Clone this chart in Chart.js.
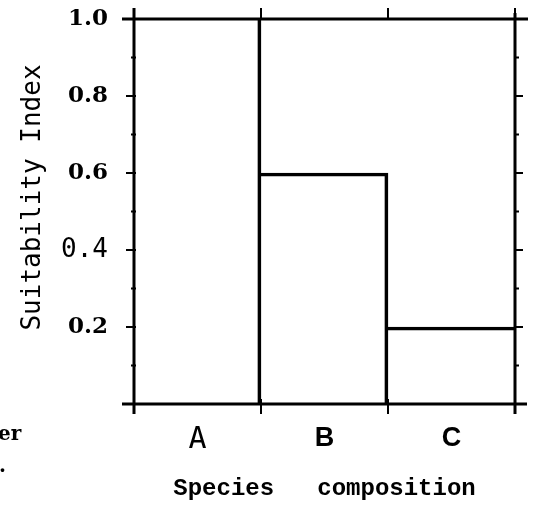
<!DOCTYPE html>
<html lang="en">
<head>
  <meta charset="UTF-8">
  <title>Species composition</title>
  <script src="https://cdn.jsdelivr.net/npm/chart.js"></script>
  <style>
    body, html {
      margin: 0;
      padding: 0;
      background-color: #ffffff;
    }
    .chart-container {
      width: 535px;
      height: 506px;
    }
  </style>
</head>
<body>
  <div class="chart-container"><canvas id="myChart" width="535" height="506"></canvas></div>

  <script>
    const categories = ['A', 'B', 'C'];
    const suitability = [1.0, 0.6, 0.2];
    const yTickValues = [0.2, 0.4, 0.6, 0.8, 1.0];
    const yTickLabels = ['0.2', '0.4', '0.6', '0.8', '1.0'];
    const yTitle = 'Suitability Index';
    const xTitle = 'Species   composition';

    const ink = '#000000';
    const thinFont = '"DejaVu Sans Mono", monospace';
    const boldSerif = '"DejaVu Serif", serif';
    const narrowBold = '"Liberation Sans Narrow", "Liberation Sans", sans-serif';

    // frame, outward ticks and the loose text around the plot
    const framePlugin = {
      id: 'frame',
      afterDraw(chart) {
        const { ctx, chartArea: a, scales } = chart;
        const y = scales.y, x = scales.x;
        ctx.save();
        ctx.strokeStyle = ink;
        ctx.lineWidth = 3;
        ctx.lineCap = 'butt';

        // box
        ctx.beginPath();
        ctx.moveTo(a.left - 12, a.top); ctx.lineTo(a.right + 13, a.top);
        ctx.moveTo(a.left - 12, a.bottom); ctx.lineTo(a.right + 12, a.bottom);
        ctx.moveTo(a.left, a.top - 11); ctx.lineTo(a.left, a.bottom + 10);
        ctx.moveTo(a.right, a.top - 6); ctx.lineTo(a.right, a.bottom + 10);
        ctx.stroke();

        // y ticks every 0.1
        ctx.lineWidth = 2;
        ctx.beginPath();
        for (let i = 1; i < 10; i++) {
          const py = y.getPixelForValue(i / 10);
          const major = i % 2 === 0;
          ctx.moveTo(a.left - (major ? 8 : 3), py); ctx.lineTo(a.left + 2, py);
          ctx.moveTo(a.right - 1, py); ctx.lineTo(a.right + (major ? 8 : 4), py);
        }
        // category boundaries on the top and bottom axes
        for (let k = 0; k <= categories.length; k++) {
          const px = x.getPixelForValue(k - 0.5);
          ctx.moveTo(px, a.top - 11); ctx.lineTo(px, a.top);
          ctx.moveTo(px, a.bottom - 5); ctx.lineTo(px, a.bottom + 10);
        }
        ctx.stroke();

        // y title
        ctx.fillStyle = ink;
        ctx.save();
        ctx.translate(40, (a.top + a.bottom) / 2 - 14);
        ctx.rotate(-Math.PI / 2);
        ctx.font = '26px ' + thinFont;
        ctx.textAlign = 'center';
        ctx.textBaseline = 'alphabetic';
        ctx.fillText(yTitle, 0, 0);
        ctx.restore();

        // cut-off caption text from the page
        ctx.font = 'bold 20px ' + boldSerif;
        ctx.textAlign = 'left';
        ctx.textBaseline = 'alphabetic';
        ctx.fillText('er', -2, 440);
        ctx.fillText('.', -1, 472);
        ctx.restore();
      }
    };

    const ctx = document.getElementById('myChart').getContext('2d');
    const myChart = new Chart(ctx, {
      type: 'bar',
      data: {
        labels: categories,
        datasets: [{
          label: 'Suitability Index',
          data: suitability,
          backgroundColor: 'rgba(0,0,0,0)',
          borderColor: ink,
          // the right edge of the last bar and the top of the first sit on the frame
          borderWidth(c) {
            const last = c.dataIndex === categories.length - 1;
            return { top: c.dataIndex === 0 ? 0 : 3, right: last ? 0 : 3, bottom: 0, left: 0 };
          },
          borderSkipped: false,
          barPercentage: 1,
          categoryPercentage: 1
        }]
      },
      options: {
        responsive: false,
        animation: false,
        layout: { padding: { top: 19, right: 20, bottom: 0, left: 0 } },
        plugins: {
          legend: { display: false },
          tooltip: { enabled: false }
        },
        scales: {
          x: {
            grid: { display: false, drawTicks: false },
            border: { display: false },
            afterFit(scale) {
              scale.height = 102;
              scale.paddingLeft = 0;
              scale.paddingRight = 0;
            },
            ticks: {
              color: ink,
              padding: 18,
              font(c) {
                if (c.index === 0) return { family: thinFont, size: 30 };
                return { family: narrowBold, size: 27, weight: 'bold' };
              }
            },
            title: {
              display: true,
              text: xTitle,
              color: ink,
              font: { family: '"Liberation Mono", monospace', size: 24, weight: 'bold' },
              padding: { top: 0, bottom: 3 }
            }
          },
          y: {
            min: 0,
            max: 1,
            afterFit(scale) {
              scale.width = 134;
              scale.paddingTop = 0;
              scale.paddingBottom = 0;
            },
            afterBuildTicks(scale) {
              scale.ticks = yTickValues.map(v => ({ value: v }));
            },
            grid: { display: false, drawTicks: false },
            border: { display: false },
            ticks: {
              color: ink,
              padding: 26,
              callback(value) {
                const i = yTickValues.findIndex(v => Math.abs(v - value) < 1e-6);
                return i >= 0 ? yTickLabels[i] : '';
              },
              font(c) {
                const v = c.tick ? c.tick.value : 0;
                if (Math.abs(v - 0.4) < 1e-6) return { family: thinFont, size: 26 };
                return { family: boldSerif, size: 23, weight: 'bold' };
              }
            }
          }
        }
      },
      plugins: [framePlugin]
    });
  </script>
</body>
</html>
